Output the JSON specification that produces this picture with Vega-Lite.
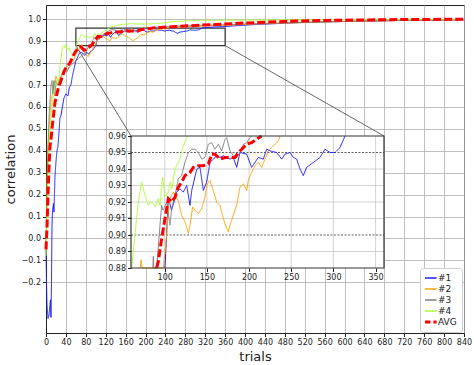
{
"$schema": "https://vega.github.io/schema/vega-lite/v6.json",
"width": 418, "height": 328,
"autosize": "none",
"padding": {"left": 46, "top": 5, "right": 10, "bottom": 32},
"config": {
  "font": "DejaVu Sans",
  "view": {"stroke": "#222", "strokeWidth": 1},
  "axis": {"labelFont": "DejaVu Sans", "labelFontSize": 8, "labelColor": "#222", "titleFont": "DejaVu Sans", "titleFontWeight": "normal", "titleFontSize": 13, "titleColor": "#222", "domainColor": "#222", "tickColor": "#222", "gridColor": "#b0b0b0", "gridOpacity": 0.8, "tickSize": 3.5, "labelPadding": 2, "labelOverlap": false, "labelFlush": false}
},
"datasets": {"d": [
{"s":"#1","t":0,"v":-0.05},{"s":"#1","t":1,"v":-0.2},{"s":"#1","t":2,"v":-0.3},{"s":"#1","t":4,"v":-0.365},{"s":"#1","t":6,"v":-0.35},{"s":"#1","t":8,"v":-0.3},{"s":"#1","t":9,"v":-0.28},{"s":"#1","t":10,"v":-0.36},{"s":"#1","t":11,"v":-0.2},{"s":"#1","t":12,"v":0.05},{"s":"#1","t":13,"v":0.12},{"s":"#1","t":15,"v":0.16},{"s":"#1","t":16,"v":0.12},{"s":"#1","t":18,"v":0.28},{"s":"#1","t":20,"v":0.35},{"s":"#1","t":22,"v":0.4},{"s":"#1","t":24,"v":0.42},{"s":"#1","t":26,"v":0.48},{"s":"#1","t":28,"v":0.55},{"s":"#1","t":30,"v":0.56},{"s":"#1","t":33,"v":0.6},{"s":"#1","t":36,"v":0.64},{"s":"#1","t":40,"v":0.66},{"s":"#1","t":44,"v":0.65},{"s":"#1","t":47,"v":0.69},{"s":"#1","t":50,"v":0.7},{"s":"#1","t":53,"v":0.74},{"s":"#1","t":57,"v":0.78},{"s":"#1","t":60,"v":0.81},{"s":"#1","t":64,"v":0.83},{"s":"#1","t":67,"v":0.845},{"s":"#1","t":70,"v":0.85},{"s":"#1","t":74,"v":0.845},{"s":"#1","t":78,"v":0.835},{"s":"#1","t":82,"v":0.85},{"s":"#1","t":86,"v":0.84},{"s":"#1","t":90,"v":0.855},{"s":"#1","t":94,"v":0.86},{"s":"#1","t":97,"v":0.87},{"s":"#1","t":100.3,"v":0.88},{"s":"#1","t":104.3,"v":0.923},{"s":"#1","t":108,"v":0.915},{"s":"#1","t":111,"v":0.92},{"s":"#1","t":114.2,"v":0.926},{"s":"#1","t":118.1,"v":0.928},{"s":"#1","t":122,"v":0.926},{"s":"#1","t":126,"v":0.93},{"s":"#1","t":130,"v":0.918},{"s":"#1","t":132,"v":0.927},{"s":"#1","t":138,"v":0.94},{"s":"#1","t":141.8,"v":0.941},{"s":"#1","t":145.8,"v":0.927},{"s":"#1","t":149.7,"v":0.932},{"s":"#1","t":153.7,"v":0.944},{"s":"#1","t":157.6,"v":0.946},{"s":"#1","t":161.6,"v":0.948},{"s":"#1","t":165.5,"v":0.947},{"s":"#1","t":169.5,"v":0.948},{"s":"#1","t":177.4,"v":0.946},{"s":"#1","t":181.3,"v":0.947},{"s":"#1","t":185.3,"v":0.941},{"s":"#1","t":189.2,"v":0.95},{"s":"#1","t":197.2,"v":0.949},{"s":"#1","t":203,"v":0.941},{"s":"#1","t":207,"v":0.944},{"s":"#1","t":211,"v":0.947},{"s":"#1","t":216.9,"v":0.946},{"s":"#1","t":220.9,"v":0.952},{"s":"#1","t":224.8,"v":0.951},{"s":"#1","t":232.7,"v":0.95},{"s":"#1","t":238.7,"v":0.946},{"s":"#1","t":242.6,"v":0.949},{"s":"#1","t":248.5,"v":0.95},{"s":"#1","t":252.5,"v":0.947},{"s":"#1","t":256.4,"v":0.946},{"s":"#1","t":260.4,"v":0.94},{"s":"#1","t":264.3,"v":0.936},{"s":"#1","t":268.3,"v":0.941},{"s":"#1","t":276.2,"v":0.944},{"s":"#1","t":284.1,"v":0.947},{"s":"#1","t":290,"v":0.952},{"s":"#1","t":296,"v":0.95},{"s":"#1","t":301.9,"v":0.95},{"s":"#1","t":307.8,"v":0.953},{"s":"#1","t":313.8,"v":0.96},{"s":"#1","t":320,"v":0.962},{"s":"#1","t":340,"v":0.965},{"s":"#1","t":360,"v":0.967},{"s":"#1","t":390,"v":0.972},{"s":"#1","t":420,"v":0.976},{"s":"#1","t":460,"v":0.98},{"s":"#1","t":500,"v":0.984},{"s":"#1","t":560,"v":0.988},{"s":"#1","t":640,"v":0.992},{"s":"#1","t":720,"v":0.995},{"s":"#1","t":840,"v":0.998},
{"s":"#2","t":0,"v":-0.05},{"s":"#2","t":2,"v":0.25},{"s":"#2","t":4,"v":0.42},{"s":"#2","t":6,"v":0.5},{"s":"#2","t":8,"v":0.56},{"s":"#2","t":10,"v":0.62},{"s":"#2","t":13,"v":0.66},{"s":"#2","t":16,"v":0.7},{"s":"#2","t":20,"v":0.74},{"s":"#2","t":24,"v":0.72},{"s":"#2","t":28,"v":0.7},{"s":"#2","t":32,"v":0.74},{"s":"#2","t":36,"v":0.77},{"s":"#2","t":40,"v":0.78},{"s":"#2","t":45,"v":0.79},{"s":"#2","t":50,"v":0.8},{"s":"#2","t":55,"v":0.81},{"s":"#2","t":60,"v":0.84},{"s":"#2","t":65,"v":0.86},{"s":"#2","t":69,"v":0.87},{"s":"#2","t":71,"v":0.88},{"s":"#2","t":72,"v":0.885},{"s":"#2","t":73,"v":0.88},{"s":"#2","t":75,"v":0.86},{"s":"#2","t":80,"v":0.84},{"s":"#2","t":85,"v":0.83},{"s":"#2","t":90,"v":0.85},{"s":"#2","t":95,"v":0.87},{"s":"#2","t":98.3,"v":0.88},{"s":"#2","t":102.3,"v":0.9},{"s":"#2","t":104.3,"v":0.916},{"s":"#2","t":106.2,"v":0.922},{"s":"#2","t":110.2,"v":0.926},{"s":"#2","t":113.4,"v":0.923},{"s":"#2","t":116.1,"v":0.921},{"s":"#2","t":120,"v":0.912},{"s":"#2","t":124,"v":0.908},{"s":"#2","t":128,"v":0.901},{"s":"#2","t":130,"v":0.906},{"s":"#2","t":133.1,"v":0.917},{"s":"#2","t":135.9,"v":0.915},{"s":"#2","t":139.8,"v":0.913},{"s":"#2","t":143.8,"v":0.916},{"s":"#2","t":147.7,"v":0.923},{"s":"#2","t":150.5,"v":0.931},{"s":"#2","t":153.7,"v":0.933},{"s":"#2","t":157.6,"v":0.927},{"s":"#2","t":161.6,"v":0.92},{"s":"#2","t":165.5,"v":0.918},{"s":"#2","t":169.5,"v":0.91},{"s":"#2","t":173.4,"v":0.904},{"s":"#2","t":175.4,"v":0.902},{"s":"#2","t":177.4,"v":0.906},{"s":"#2","t":181.3,"v":0.912},{"s":"#2","t":185.3,"v":0.918},{"s":"#2","t":189.2,"v":0.929},{"s":"#2","t":193.2,"v":0.931},{"s":"#2","t":197.2,"v":0.927},{"s":"#2","t":199,"v":0.933},{"s":"#2","t":203,"v":0.938},{"s":"#2","t":207,"v":0.942},{"s":"#2","t":211,"v":0.944},{"s":"#2","t":214.9,"v":0.941},{"s":"#2","t":218.9,"v":0.946},{"s":"#2","t":222.8,"v":0.951},{"s":"#2","t":226.8,"v":0.953},{"s":"#2","t":230.8,"v":0.955},{"s":"#2","t":234.7,"v":0.957},{"s":"#2","t":236.7,"v":0.96},{"s":"#2","t":250,"v":0.963},{"s":"#2","t":280,"v":0.966},{"s":"#2","t":320,"v":0.97},{"s":"#2","t":360,"v":0.973},{"s":"#2","t":420,"v":0.978},{"s":"#2","t":500,"v":0.984},{"s":"#2","t":600,"v":0.99},{"s":"#2","t":720,"v":0.995},{"s":"#2","t":840,"v":0.998},
{"s":"#3","t":0,"v":-0.05},{"s":"#3","t":2,"v":0.2},{"s":"#3","t":4,"v":0.4},{"s":"#3","t":6,"v":0.55},{"s":"#3","t":8,"v":0.62},{"s":"#3","t":10,"v":0.7},{"s":"#3","t":12,"v":0.72},{"s":"#3","t":14,"v":0.66},{"s":"#3","t":16,"v":0.72},{"s":"#3","t":18,"v":0.65},{"s":"#3","t":20,"v":0.72},{"s":"#3","t":23,"v":0.7},{"s":"#3","t":26,"v":0.72},{"s":"#3","t":30,"v":0.74},{"s":"#3","t":34,"v":0.76},{"s":"#3","t":38,"v":0.77},{"s":"#3","t":42,"v":0.76},{"s":"#3","t":46,"v":0.78},{"s":"#3","t":50,"v":0.79},{"s":"#3","t":55,"v":0.8},{"s":"#3","t":60,"v":0.81},{"s":"#3","t":65,"v":0.82},{"s":"#3","t":70,"v":0.83},{"s":"#3","t":75,"v":0.84},{"s":"#3","t":80,"v":0.85},{"s":"#3","t":84,"v":0.87},{"s":"#3","t":86,"v":0.88},{"s":"#3","t":86.5,"v":0.887},{"s":"#3","t":87,"v":0.88},{"s":"#3","t":88,"v":0.87},{"s":"#3","t":90.4,"v":0.88},{"s":"#3","t":94.4,"v":0.906},{"s":"#3","t":96.3,"v":0.918},{"s":"#3","t":98,"v":0.915},{"s":"#3","t":102.3,"v":0.92},{"s":"#3","t":106.2,"v":0.906},{"s":"#3","t":108.2,"v":0.916},{"s":"#3","t":112.2,"v":0.924},{"s":"#3","t":116.1,"v":0.934},{"s":"#3","t":120,"v":0.936},{"s":"#3","t":124,"v":0.944},{"s":"#3","t":128,"v":0.95},{"s":"#3","t":132,"v":0.952},{"s":"#3","t":135.8,"v":0.952},{"s":"#3","t":139.8,"v":0.95},{"s":"#3","t":143.8,"v":0.946},{"s":"#3","t":147.7,"v":0.947},{"s":"#3","t":151.7,"v":0.955},{"s":"#3","t":155.7,"v":0.956},{"s":"#3","t":159.6,"v":0.952},{"s":"#3","t":163.6,"v":0.955},{"s":"#3","t":167.5,"v":0.951},{"s":"#3","t":171.5,"v":0.958},{"s":"#3","t":173.4,"v":0.959},{"s":"#3","t":177.4,"v":0.951},{"s":"#3","t":181.3,"v":0.948},{"s":"#3","t":185.3,"v":0.947},{"s":"#3","t":189.2,"v":0.95},{"s":"#3","t":193.2,"v":0.955},{"s":"#3","t":197.2,"v":0.956},{"s":"#3","t":201,"v":0.959},{"s":"#3","t":203,"v":0.96},{"s":"#3","t":210,"v":0.962},{"s":"#3","t":240,"v":0.966},{"s":"#3","t":280,"v":0.97},{"s":"#3","t":320,"v":0.973},{"s":"#3","t":360,"v":0.975},{"s":"#3","t":420,"v":0.98},{"s":"#3","t":500,"v":0.985},{"s":"#3","t":600,"v":0.99},{"s":"#3","t":720,"v":0.995},{"s":"#3","t":840,"v":0.998},
{"s":"#4","t":0,"v":-0.08},{"s":"#4","t":2,"v":0.1},{"s":"#4","t":4,"v":0.3},{"s":"#4","t":6,"v":0.42},{"s":"#4","t":8,"v":0.5},{"s":"#4","t":10,"v":0.56},{"s":"#4","t":12,"v":0.6},{"s":"#4","t":15,"v":0.65},{"s":"#4","t":18,"v":0.7},{"s":"#4","t":22,"v":0.72},{"s":"#4","t":25,"v":0.7},{"s":"#4","t":28,"v":0.78},{"s":"#4","t":30,"v":0.82},{"s":"#4","t":33,"v":0.87},{"s":"#4","t":36,"v":0.88},{"s":"#4","t":38,"v":0.87},{"s":"#4","t":40,"v":0.885},{"s":"#4","t":43,"v":0.86},{"s":"#4","t":46,"v":0.87},{"s":"#4","t":50,"v":0.85},{"s":"#4","t":54,"v":0.83},{"s":"#4","t":57,"v":0.84},{"s":"#4","t":60,"v":0.87},{"s":"#4","t":60.8,"v":0.88},{"s":"#4","t":64.7,"v":0.9},{"s":"#4","t":68.7,"v":0.92},{"s":"#4","t":72.6,"v":0.932},{"s":"#4","t":76.6,"v":0.924},{"s":"#4","t":80.6,"v":0.918},{"s":"#4","t":83,"v":0.92},{"s":"#4","t":86.5,"v":0.919},{"s":"#4","t":89,"v":0.917},{"s":"#4","t":92.4,"v":0.922},{"s":"#4","t":94.4,"v":0.918},{"s":"#4","t":97.5,"v":0.935},{"s":"#4","t":100.3,"v":0.923},{"s":"#4","t":104.3,"v":0.926},{"s":"#4","t":106.2,"v":0.932},{"s":"#4","t":108.5,"v":0.928},{"s":"#4","t":112.2,"v":0.94},{"s":"#4","t":118,"v":0.946},{"s":"#4","t":122,"v":0.954},{"s":"#4","t":126.8,"v":0.96},{"s":"#4","t":130,"v":0.965},{"s":"#4","t":140,"v":0.97},{"s":"#4","t":150,"v":0.976},{"s":"#4","t":170,"v":0.98},{"s":"#4","t":200,"v":0.978},{"s":"#4","t":230,"v":0.982},{"s":"#4","t":260,"v":0.99},{"s":"#4","t":300,"v":0.995},{"s":"#4","t":360,"v":0.996},{"s":"#4","t":440,"v":0.997},{"s":"#4","t":560,"v":0.998},{"s":"#4","t":840,"v":0.999},
{"s":"AVG","t":0,"v":-0.05},{"s":"AVG","t":2,"v":0.05},{"s":"AVG","t":4,"v":0.2},{"s":"AVG","t":6,"v":0.32},{"s":"AVG","t":8,"v":0.42},{"s":"AVG","t":10,"v":0.45},{"s":"AVG","t":12,"v":0.5},{"s":"AVG","t":15,"v":0.56},{"s":"AVG","t":18,"v":0.62},{"s":"AVG","t":21,"v":0.65},{"s":"AVG","t":24,"v":0.68},{"s":"AVG","t":27,"v":0.7},{"s":"AVG","t":30,"v":0.72},{"s":"AVG","t":33,"v":0.74},{"s":"AVG","t":36,"v":0.76},{"s":"AVG","t":40,"v":0.78},{"s":"AVG","t":44,"v":0.79},{"s":"AVG","t":48,"v":0.8},{"s":"AVG","t":52,"v":0.82},{"s":"AVG","t":56,"v":0.84},{"s":"AVG","t":60,"v":0.855},{"s":"AVG","t":64,"v":0.865},{"s":"AVG","t":68,"v":0.875},{"s":"AVG","t":72,"v":0.87},{"s":"AVG","t":76,"v":0.86},{"s":"AVG","t":80,"v":0.862},{"s":"AVG","t":84,"v":0.87},{"s":"AVG","t":88,"v":0.875},{"s":"AVG","t":90.4,"v":0.88},{"s":"AVG","t":92.4,"v":0.884},{"s":"AVG","t":96.4,"v":0.898},{"s":"AVG","t":100.3,"v":0.91},{"s":"AVG","t":104.3,"v":0.922},{"s":"AVG","t":108.2,"v":0.92},{"s":"AVG","t":112.2,"v":0.923},{"s":"AVG","t":116.1,"v":0.929},{"s":"AVG","t":120,"v":0.932},{"s":"AVG","t":124,"v":0.936},{"s":"AVG","t":130,"v":0.938},{"s":"AVG","t":134,"v":0.941},{"s":"AVG","t":139.8,"v":0.942},{"s":"AVG","t":145.8,"v":0.942},{"s":"AVG","t":151.7,"v":0.943},{"s":"AVG","t":155.7,"v":0.949},{"s":"AVG","t":159.6,"v":0.949},{"s":"AVG","t":165.5,"v":0.946},{"s":"AVG","t":171.5,"v":0.947},{"s":"AVG","t":177.4,"v":0.947},{"s":"AVG","t":183.3,"v":0.947},{"s":"AVG","t":187.3,"v":0.95},{"s":"AVG","t":191.3,"v":0.952},{"s":"AVG","t":197.2,"v":0.955},{"s":"AVG","t":203,"v":0.956},{"s":"AVG","t":209,"v":0.958},{"s":"AVG","t":214.9,"v":0.96},{"s":"AVG","t":230,"v":0.963},{"s":"AVG","t":260,"v":0.967},{"s":"AVG","t":300,"v":0.972},{"s":"AVG","t":340,"v":0.976},{"s":"AVG","t":400,"v":0.983},{"s":"AVG","t":480,"v":0.99},{"s":"AVG","t":560,"v":0.995},{"s":"AVG","t":640,"v":0.997},{"s":"AVG","t":720,"v":0.999},{"s":"AVG","t":840,"v":1.0}
]},
"data": {"name": "d"},
"layer": [
  {
    "layer": [
      {
        "data": {"values": [{}]},
        "mark": {"type": "rect", "filled": false, "stroke": "#333", "strokeWidth": 1.2},
        "encoding": {
          "x": {"datum": 60, "type": "quantitative", "scale": {"domain": [0, 840], "nice": false, "zero": false}, "axis": {"title": "trials", "values": [0,40,80,120,160,200,240,280,320,360,400,440,480,520,560,600,640,680,720,760,800,840], "grid": true, "labelFlush": false, "labelOverlap": false}},
          "x2": {"datum": 360},
          "y": {"datum": 0.88, "type": "quantitative", "scale": {"domain": [-0.4313, 1.0652], "nice": false, "zero": false}, "axis": {"title": "correlation", "values": [-0.2,-0.1,0,0.1,0.2,0.3,0.4,0.5,0.6,0.7,0.8,0.9,1.0], "format": ".1f", "grid": true, "labelOverlap": false}},
          "y2": {"datum": 0.96}
        }
      },
      {
        "data": {"values": [{}]},
        "mark": {"type": "rule", "color": "#444", "strokeWidth": 0.8},
        "encoding": {
          "x": {"datum": 60, "type": "quantitative", "axis": {"title": "trials", "values": [0,40,80,120,160,200,240,280,320,360,400,440,480,520,560,600,640,680,720,760,800,840], "grid": true, "labelFlush": false, "labelOverlap": false}},
          "y": {"datum": 0.88, "type": "quantitative", "axis": {"title": "correlation", "values": [-0.2,-0.1,0,0.1,0.2,0.3,0.4,0.5,0.6,0.7,0.8,0.9,1.0], "format": ".1f", "grid": true, "labelOverlap": false}},
          "x2": {"datum": 170.8}, "y2": {"datum": 0.4676}
        }
      },
      {
        "data": {"values": [{}]},
        "mark": {"type": "rule", "color": "#444", "strokeWidth": 0.8},
        "encoding": {
          "x": {"datum": 360, "type": "quantitative", "axis": {"title": "trials", "values": [0,40,80,120,160,200,240,280,320,360,400,440,480,520,560,600,640,680,720,760,800,840], "grid": true, "labelFlush": false, "labelOverlap": false}},
          "y": {"datum": 0.88, "type": "quantitative", "axis": {"title": "correlation", "values": [-0.2,-0.1,0,0.1,0.2,0.3,0.4,0.5,0.6,0.7,0.8,0.9,1.0], "format": ".1f", "grid": true, "labelOverlap": false}},
          "x2": {"datum": 679.2}, "y2": {"datum": 0.4676}
        }
      },
      {
        "mark": {"type": "line", "strokeCap": "butt"},
        "encoding": {
          "x": {"field": "t", "type": "quantitative", "scale": {"domain": [0, 840], "nice": false, "zero": false}, "axis": {"title": "trials", "values": [0,40,80,120,160,200,240,280,320,360,400,440,480,520,560,600,640,680,720,760,800,840], "grid": true, "labelFlush": false, "labelOverlap": false}},
          "y": {"field": "v", "type": "quantitative", "scale": {"domain": [-0.4313, 1.0652], "nice": false, "zero": false}, "axis": {"title": "correlation", "values": [-0.2,-0.1,0,0.1,0.2,0.3,0.4,0.5,0.6,0.7,0.8,0.9,1.0], "format": ".1f", "grid": true, "labelOverlap": false}},
          "color": {"field": "s", "type": "nominal", "scale": {"domain": ["#1","#2","#3","#4","AVG"], "range": ["#1a1aff","#ffa500","#808080","#adff2f","#ff0000"]}, "legend": {"title": null, "orient": "none", "legendX": 374, "legendY": 263, "symbolType": "stroke", "symbolSize": 200, "clipHeight": 10, "labelFontSize": 9, "labelFont": "DejaVu Sans", "labelColor": "#222", "fillColor": "white", "strokeColor": "#ccc", "padding": 5, "cornerRadius": 3, "rowPadding": 1, "encode": {"symbols": {"update": {"strokeWidth": {"signal": "datum.label === 'AVG' ? 3 : 1.3"}}}}}},
          "strokeDash": {"field": "s", "type": "nominal", "scale": {"domain": ["#1","#2","#3","#4","AVG"], "range": [[1,0],[1,0],[1,0],[1,0],[8,3]]}, "legend": {"title": null, "orient": "none", "legendX": 374, "legendY": 263, "symbolType": "stroke", "symbolSize": 200, "clipHeight": 10, "labelFontSize": 9, "labelFont": "DejaVu Sans", "labelColor": "#222", "fillColor": "white", "strokeColor": "#ccc", "padding": 5, "cornerRadius": 3, "rowPadding": 1, "encode": {"symbols": {"update": {"strokeWidth": {"signal": "datum.label === 'AVG' ? 3 : 1.3"}}}}}},
          "strokeWidth": {"condition": {"test": "datum.s === 'AVG'", "value": 3}, "value": 1}
        }
      }
    ]
  },
  {
    "layer": [
      {
        "data": {"values": [{}]},
        "mark": {"type": "rect", "fill": "white", "strokeWidth": 0},
        "encoding": {"x": {"datum": 60}, "x2": {"datum": 360}, "y": {"datum": 0.88}, "y2": {"datum": 0.96}}
      },
      {
        "data": {"values": [{"g": 100},{"g": 150},{"g": 200},{"g": 250},{"g": 300},{"g": 350}]},
        "mark": {"type": "rule", "color": "#c8c8c8", "strokeWidth": 0.8},
        "encoding": {"x": {"field": "g", "type": "quantitative", "title": null}, "y": {"datum": 0.88}, "y2": {"datum": 0.96}}
      },
      {
        "data": {"values": [{"h": 0.89},{"h": 0.91},{"h": 0.92},{"h": 0.93},{"h": 0.94}]},
        "mark": {"type": "rule", "color": "#c8c8c8", "strokeWidth": 0.8},
        "encoding": {"y": {"field": "h", "type": "quantitative", "title": null}, "x": {"datum": 60}, "x2": {"datum": 360}}
      },
      {
        "data": {"values": [{"h": 0.90},{"h": 0.95}]},
        "mark": {"type": "rule", "color": "#333", "strokeWidth": 0.8, "strokeDash": [2, 1.5]},
        "encoding": {"y": {"field": "h", "type": "quantitative", "title": null}, "x": {"datum": 60}, "x2": {"datum": 360}}
      },
      {
        "transform": [{"filter": {"field": "t", "range": [60, 360]}}, {"filter": {"field": "v", "range": [0.88, 0.96]}}],
        "mark": {"type": "line", "strokeCap": "butt"},
        "encoding": {
          "x": {"field": "t", "type": "quantitative", "title": null, "scale": {"domain": [60, 360], "range": [85, 338], "nice": false, "zero": false}, "axis": {"orient": "bottom", "offset": -65, "values": [100,150,200,250,300,350], "grid": false, "domain": false, "title": null, "zindex": 1}},
          "y": {"field": "v", "type": "quantitative", "title": null, "scale": {"domain": [0.88, 0.96], "range": [263, 131], "nice": false, "zero": false}, "axis": {"orient": "left", "offset": -85, "values": [0.88,0.89,0.90,0.91,0.92,0.93,0.94,0.95,0.96], "format": ".2f", "grid": false, "domain": false, "title": null, "zindex": 1}},
          "color": {"field": "s", "type": "nominal"},
          "strokeDash": {"field": "s", "type": "nominal"},
          "strokeWidth": {"condition": {"test": "datum.s === 'AVG'", "value": 3}, "value": 1}
        }
      },
      {
        "data": {"values": [{}]},
        "mark": {"type": "rect", "filled": false, "stroke": "#333", "strokeWidth": 1.2},
        "encoding": {"x": {"datum": 60}, "x2": {"datum": 360}, "y": {"datum": 0.88}, "y2": {"datum": 0.96}}
      }
    ]
  }
],
"resolve": {"scale": {"x": "independent", "y": "independent"}}
}
